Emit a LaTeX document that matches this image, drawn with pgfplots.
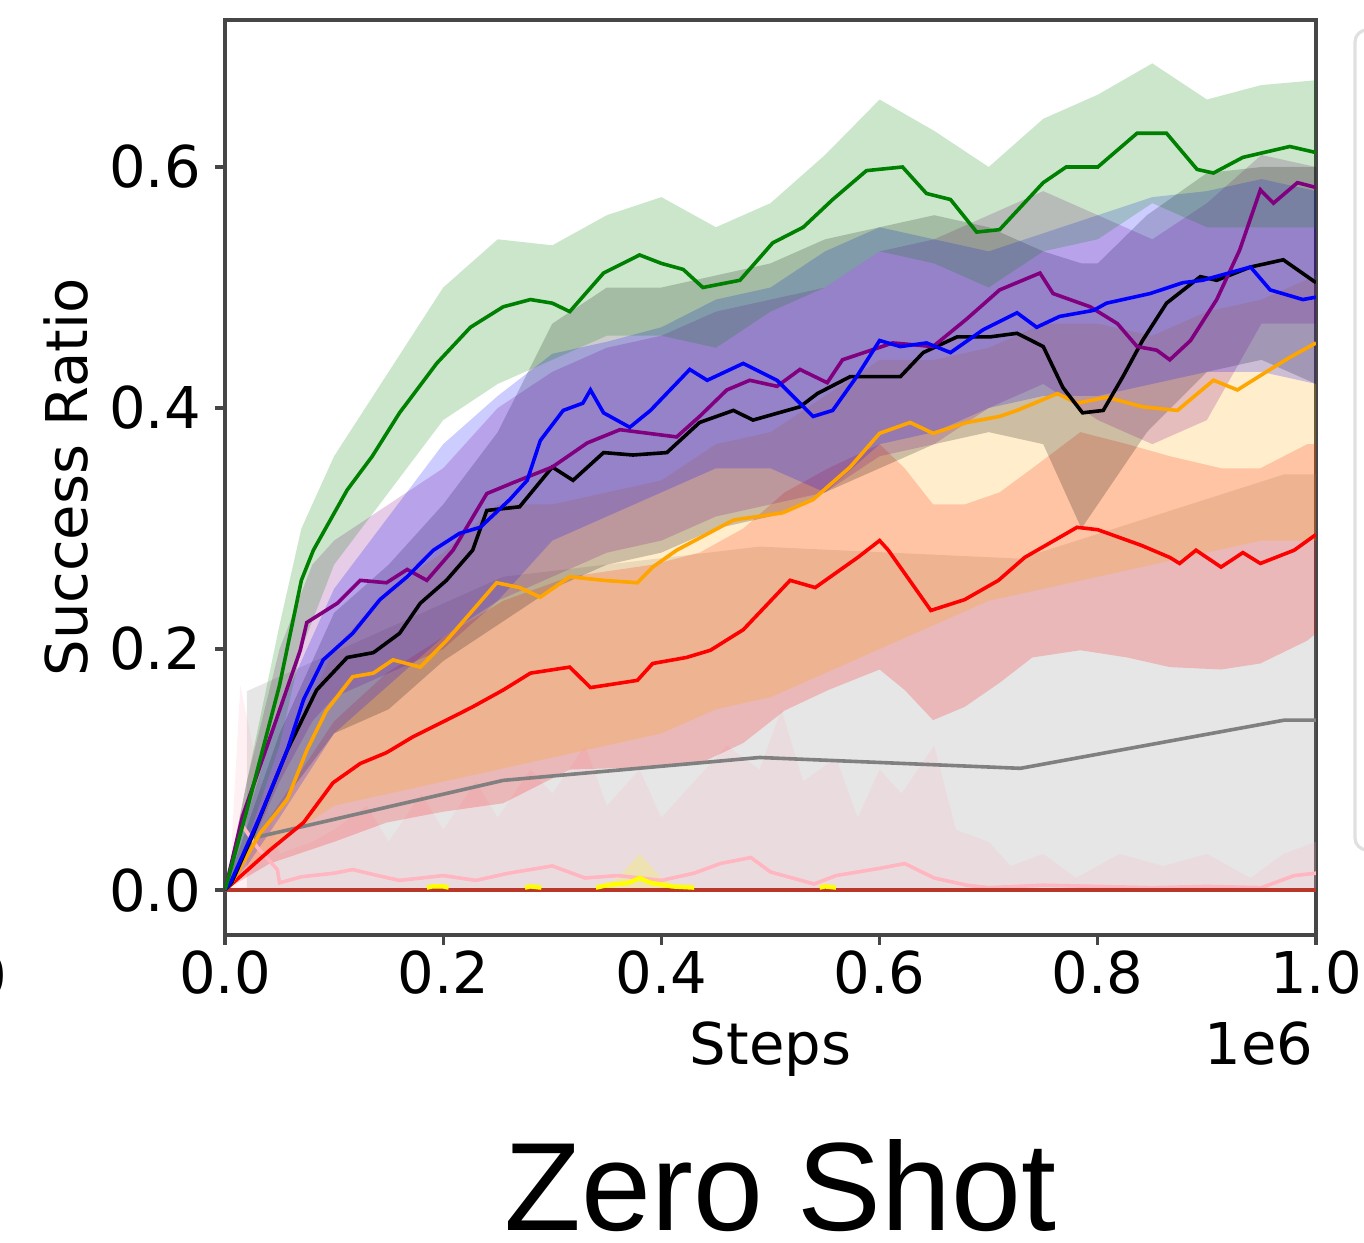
\documentclass[border=0pt]{standalone}
\usepackage{fontspec}
\setmainfont{DejaVu Sans}
\newfontfamily\titlefont{Liberation Sans}
\usepackage{pgfplots}
\pgfplotsset{compat=1.18}
\usepackage{pgfplotstable}
\usepgfplotslibrary{fillbetween}
\usetikzlibrary{calc}

\definecolor{mgreen}{RGB}{0,128,0}
\definecolor{mblue}{RGB}{0,0,255}
\definecolor{mpurple}{RGB}{128,0,128}
\definecolor{morange}{RGB}{255,165,0}
\definecolor{mred}{RGB}{255,0,0}
\definecolor{mgray}{RGB}{128,128,128}
\definecolor{mpink}{RGB}{255,182,193}
\definecolor{myellow}{RGB}{255,255,0}
\definecolor{zeroline}{RGB}{185,55,40}
\definecolor{spine}{RGB}{70,70,70}

% ---- mean curves ----
\pgfplotstableread{
x y
0 0
0.02 0.066
0.05 0.17
0.07 0.257
0.081 0.282
0.112 0.332
0.135 0.36
0.16 0.396
0.194 0.437
0.225 0.467
0.255 0.484
0.28 0.49
0.30 0.487
0.316 0.48
0.347 0.512
0.38 0.527
0.40 0.52
0.42 0.515
0.438 0.50
0.472 0.506
0.502 0.537
0.53 0.55
0.557 0.573
0.588 0.597
0.621 0.60
0.643 0.578
0.665 0.573
0.689 0.546
0.71 0.548
0.75 0.587
0.771 0.60
0.80 0.60
0.836 0.628
0.863 0.628
0.891 0.598
0.906 0.595
0.933 0.608
0.976 0.617
1.0 0.612
}\greenm

\pgfplotstableread{
x y
0 0
0.005 0.006
0.032 0.061
0.057 0.116
0.072 0.158
0.09 0.191
0.117 0.213
0.142 0.241
0.167 0.26
0.191 0.282
0.215 0.296
0.234 0.301
0.261 0.324
0.277 0.34
0.289 0.373
0.31 0.398
0.328 0.404
0.335 0.415
0.347 0.396
0.371 0.384
0.39 0.398
0.426 0.432
0.442 0.423
0.475 0.437
0.506 0.423
0.527 0.404
0.539 0.393
0.557 0.398
0.579 0.426
0.60 0.456
0.619 0.451
0.643 0.454
0.665 0.446
0.695 0.465
0.726 0.479
0.744 0.467
0.765 0.476
0.796 0.481
0.808 0.487
0.848 0.495
0.878 0.504
0.896 0.506
0.94 0.517
0.958 0.498
0.988 0.49
1.0 0.492
}\bluem

\pgfplotstableread{
x y
0 0
0.016 0.061
0.048 0.144
0.069 0.199
0.075 0.222
0.103 0.238
0.124 0.257
0.148 0.255
0.167 0.266
0.185 0.257
0.209 0.282
0.24 0.329
0.264 0.338
0.30 0.351
0.332 0.371
0.362 0.382
0.414 0.376
0.435 0.393
0.46 0.415
0.481 0.423
0.506 0.418
0.527 0.432
0.552 0.421
0.566 0.44
0.612 0.454
0.649 0.451
0.68 0.474
0.71 0.498
0.747 0.512
0.759 0.495
0.793 0.484
0.818 0.47
0.836 0.451
0.854 0.448
0.866 0.44
0.885 0.456
0.909 0.49
0.93 0.531
0.949 0.581
0.961 0.57
0.983 0.587
1.0 0.583
}\purplem

\pgfplotstableread{
x y
0 0
0.006 0.006
0.026 0.047
0.057 0.116
0.084 0.166
0.112 0.193
0.136 0.197
0.16 0.213
0.179 0.238
0.203 0.257
0.227 0.282
0.24 0.315
0.27 0.318
0.30 0.351
0.319 0.34
0.347 0.363
0.374 0.361
0.405 0.363
0.435 0.388
0.466 0.398
0.484 0.39
0.527 0.401
0.543 0.412
0.573 0.426
0.619 0.426
0.64 0.446
0.671 0.459
0.701 0.459
0.726 0.462
0.75 0.451
0.768 0.417
0.786 0.396
0.805 0.398
0.823 0.426
0.841 0.456
0.863 0.487
0.894 0.509
0.909 0.506
0.94 0.517
0.97 0.523
1.0 0.504
}\blackm

\pgfplotstableread{
x y
0 0
0.006 0.006
0.032 0.047
0.057 0.075
0.075 0.116
0.093 0.149
0.117 0.177
0.136 0.18
0.154 0.191
0.179 0.185
0.203 0.207
0.227 0.232
0.249 0.255
0.27 0.251
0.289 0.243
0.316 0.26
0.347 0.257
0.378 0.255
0.392 0.268
0.414 0.282
0.466 0.307
0.511 0.313
0.539 0.324
0.573 0.351
0.60 0.379
0.628 0.388
0.649 0.379
0.68 0.388
0.71 0.393
0.726 0.398
0.763 0.412
0.781 0.404
0.808 0.409
0.841 0.401
0.873 0.398
0.906 0.423
0.928 0.415
0.958 0.432
0.976 0.442
1.0 0.454
}\orangem

\pgfplotstableread{
x y
0 0
0.041 0.033
0.072 0.056
0.099 0.089
0.124 0.105
0.148 0.114
0.172 0.127
0.203 0.141
0.227 0.152
0.255 0.166
0.28 0.18
0.316 0.185
0.335 0.168
0.378 0.174
0.392 0.188
0.423 0.193
0.445 0.199
0.475 0.216
0.518 0.257
0.541 0.251
0.58 0.276
0.60 0.29
0.608 0.282
0.647 0.232
0.678 0.241
0.709 0.257
0.733 0.276
0.781 0.301
0.80 0.299
0.84 0.286
0.866 0.276
0.875 0.271
0.89 0.282
0.913 0.268
0.933 0.28
0.949 0.271
0.98 0.282
1.0 0.295
}\redm

\pgfplotstableread{
x y
0.02 0.042
0.255 0.091
0.49 0.11
0.729 0.101
0.971 0.141
1.0 0.141
}\graym

\pgfplotstableread{
x y
0.014 0.056
0.03 0.035
0.048 0.017
0.05 0.006
0.07 0.011
0.10 0.014
0.117 0.017
0.14 0.012
0.16 0.008
0.20 0.012
0.23 0.008
0.26 0.014
0.30 0.02
0.33 0.01
0.36 0.012
0.40 0.008
0.43 0.014
0.454 0.022
0.482 0.027
0.50 0.015
0.52 0.01
0.54 0.005
0.56 0.012
0.60 0.018
0.623 0.022
0.65 0.01
0.68 0.004
0.70 0.002
0.75 0.004
0.80 0.003
0.85 0.002
0.90 0.003
0.95 0.002
0.98 0.012
1.0 0.014
}\pinkm

% yellow series: zero except for a few short bumps (nan = not drawn on top of the zero line)
\pgfplotstableread{
x y
0.185 0.002
0.19 0.003
0.20 0.003
0.205 0.002
0.21 nan
0.275 0.002
0.28 0.003
0.29 0.002
0.30 nan
0.34 0.002
0.35 0.004
0.37 0.006
0.38 0.01
0.39 0.006
0.41 0.003
0.43 0.002
0.435 nan
0.545 0.002
0.55 0.003
0.56 0.002
}\yellowm

% ---- shaded bands (x lo hi) ----
\pgfplotstableread{
x lo hi
0 0 0
0.02 0.04 0.09
0.05 0.12 0.22
0.07 0.20 0.30
0.10 0.27 0.36
0.15 0.33 0.43
0.20 0.39 0.50
0.25 0.42 0.54
0.30 0.44 0.535
0.35 0.46 0.56
0.40 0.46 0.575
0.45 0.45 0.55
0.50 0.48 0.57
0.55 0.50 0.61
0.60 0.53 0.656
0.65 0.52 0.63
0.70 0.50 0.60
0.75 0.53 0.64
0.80 0.54 0.66
0.85 0.57 0.686
0.90 0.55 0.656
0.95 0.55 0.668
1.00 0.55 0.672
}\greenb

\pgfplotstableread{
x lo hi
0 0 0
0.02 0.02 0.06
0.05 0.06 0.15
0.10 0.13 0.25
0.15 0.17 0.31
0.20 0.21 0.37
0.25 0.24 0.41
0.30 0.29 0.445
0.35 0.31 0.455
0.40 0.33 0.467
0.45 0.35 0.49
0.50 0.35 0.50
0.55 0.33 0.53
0.60 0.37 0.55
0.65 0.38 0.54
0.70 0.40 0.53
0.75 0.41 0.545
0.80 0.41 0.56
0.85 0.42 0.575
0.90 0.43 0.58
0.95 0.43 0.59
1.00 0.42 0.58
}\blueb

\pgfplotstableread{
x lo hi
0 0 0
0.02 0.03 0.09
0.05 0.09 0.20
0.08 0.14 0.27
0.10 0.16 0.29
0.15 0.18 0.32
0.20 0.20 0.35
0.25 0.24 0.40
0.30 0.26 0.43
0.35 0.28 0.45
0.40 0.29 0.46
0.45 0.31 0.48
0.50 0.32 0.49
0.55 0.33 0.50
0.60 0.36 0.53
0.65 0.37 0.54
0.70 0.40 0.56
0.75 0.42 0.58
0.80 0.39 0.56
0.85 0.37 0.54
0.90 0.39 0.57
0.95 0.47 0.61
1.00 0.47 0.60
}\purpleb

\pgfplotstableread{
x lo hi
0 0 0
0.05 0.07 0.13
0.10 0.13 0.23
0.15 0.15 0.27
0.20 0.19 0.32
0.25 0.22 0.38
0.30 0.25 0.47
0.35 0.27 0.50
0.40 0.28 0.50
0.45 0.30 0.51
0.50 0.31 0.52
0.55 0.33 0.54
0.60 0.35 0.55
0.65 0.37 0.56
0.70 0.38 0.55
0.75 0.37 0.53
0.785 0.30 0.52
0.80 0.32 0.52
0.845 0.38 0.56
0.90 0.43 0.595
0.95 0.44 0.60
1.00 0.42 0.60
}\blackb

\pgfplotstableread{
x lo hi
0 0 0
0.05 0.04 0.10
0.10 0.07 0.20
0.15 0.08 0.25
0.20 0.09 0.28
0.25 0.10 0.32
0.30 0.11 0.32
0.35 0.12 0.33
0.40 0.13 0.34
0.45 0.15 0.37
0.50 0.16 0.38
0.55 0.18 0.41
0.60 0.20 0.44
0.65 0.22 0.44
0.70 0.24 0.45
0.75 0.25 0.47
0.80 0.26 0.47
0.85 0.27 0.46
0.90 0.28 0.48
0.95 0.29 0.49
1.00 0.29 0.51
}\orangeb

\pgfplotstableread{
x lo hi
0 0 0
0.041 0.022 0.06
0.10 0.04 0.14
0.148 0.056 0.18
0.20 0.065 0.21
0.255 0.072 0.24
0.316 0.10 0.26
0.392 0.102 0.27
0.435 0.105 0.28
0.475 0.122 0.30
0.513 0.149 0.33
0.553 0.166 0.35
0.60 0.183 0.37
0.623 0.166 0.35
0.649 0.141 0.32
0.678 0.152 0.32
0.71 0.172 0.33
0.74 0.193 0.35
0.784 0.199 0.38
0.827 0.193 0.37
0.866 0.185 0.36
0.913 0.183 0.35
0.949 0.188 0.35
0.992 0.207 0.37
1.00 0.213 0.37
}\redb

\pgfplotstableread{
x lo hi
0.02 0 0.165
0.255 0 0.26
0.49 0 0.285
0.729 0 0.275
0.971 0 0.345
1.0 0 0.345
}\grayb

\pgfplotstableread{
x lo hi
0.005 0 0.02
0.014 0 0.17
0.03 0 0.10
0.05 0 0.03
0.08 0 0.04
0.10 0 0.05
0.13 0 0.07
0.15 0 0.04
0.18 0 0.08
0.20 0 0.05
0.23 0 0.09
0.25 0 0.06
0.28 0 0.10
0.30 0 0.08
0.33 0 0.12
0.35 0 0.07
0.38 0 0.10
0.40 0 0.06
0.43 0 0.09
0.46 0 0.12
0.49 0 0.10
0.51 0 0.15
0.53 0 0.09
0.56 0 0.11
0.58 0 0.06
0.60 0 0.10
0.62 0 0.08
0.65 0 0.12
0.67 0 0.05
0.70 0 0.04
0.72 0 0.02
0.75 0 0.03
0.78 0 0.01
0.82 0 0.03
0.86 0 0.02
0.90 0 0.03
0.94 0 0.01
0.97 0 0.03
1.00 0 0.04
}\pinkb

\pgfplotstableread{
x lo hi
0.34 0 0
0.36 0 0.01
0.38 0 0.03
0.40 0 0.01
0.42 0 0
}\yellowb

\newcommand{\band}[3]{%
  \addplot[draw=none, name path=#3u, forget plot] table[x=x,y=hi]{#1};
  \addplot[draw=none, name path=#3l, forget plot] table[x=x,y=lo]{#1};
  \addplot[fill=#2, fill opacity=0.2, draw=none, forget plot] fill between[of=#3u and #3l];
}

\begin{document}
\begin{tikzpicture}
\begin{axis}[
  scale only axis,
  width=272.75pt, height=228.75pt,
  xmin=0, xmax=1,
  ymin=-0.0373, ymax=0.722,
  xtick={0,0.2,0.4,0.6,0.8,1.0},
  ytick={0,0.2,0.4,0.6},
  xtick pos=left, ytick pos=left,
  tick align=outside,
  major tick length=2.5pt,
  tick style={spine, line width=0.8pt},
  axis line style={spine, line width=0.8pt},
  unbounded coords=jump,
  /pgf/number format/assume math mode=true,
  /pgf/number format/.cd, fixed, fixed zerofill, precision=1, /pgfplots/.cd,
  tick label style={font=\fontsize{14.4}{17}\selectfont},
  xticklabel style={yshift=2pt},
  label style={font=\fontsize{14.4}{17}\selectfont},
  xlabel={Steps},
  xlabel style={at={(axis description cs:0.5,0)}, anchor=base, yshift=-32.5pt},
  ylabel={Success Ratio},
  ylabel style={at={(axis description cs:0,0.5)}, anchor=center, yshift=39.75pt},
  clip=true,
]
\band{\grayb}{mgray}{gy}
\band{\pinkb}{mpink}{pk}
\band{\yellowb}{myellow}{yl}
\band{\redb}{mred}{rd}
\band{\orangeb}{morange}{or}
\band{\blackb}{black}{bk}
\band{\purpleb}{mpurple}{pu}
\band{\blueb}{mblue}{bl}
\band{\greenb}{mgreen}{gr}

\addplot[mgray, line width=0.9pt] table[x=x,y=y]{\graym};
\addplot[mpink, line width=0.9pt] table[x=x,y=y]{\pinkm};
\addplot[zeroline, line width=1.1pt] coordinates {(0,0) (1,0)};
\addplot[myellow, line width=1.1pt] table[x=x,y=y]{\yellowm};
\addplot[mred, line width=0.9pt] table[x=x,y=y]{\redm};
\addplot[morange, line width=0.9pt] table[x=x,y=y]{\orangem};
\addplot[black, line width=0.9pt] table[x=x,y=y]{\blackm};
\addplot[mpurple, line width=0.9pt] table[x=x,y=y]{\purplem};
\addplot[mblue, line width=0.9pt] table[x=x,y=y]{\bluem};
\addplot[mgreen, line width=0.9pt] table[x=x,y=y]{\greenm};

\coordinate (SW) at (rel axis cs:0,0);
\coordinate (NE) at (rel axis cs:1,1);
\end{axis}
% multiplier under the right end of the x axis
\node[anchor=base east, font=\fontsize{14.4}{17}\selectfont, inner sep=0pt]
  at ($(NE|-SW)+(-0.5pt,-32.5pt)$) {1e6};
% panel title
\node[anchor=base, font=\titlefont\fontsize{31.4}{36}\selectfont, inner sep=0pt]
  at ($(SW)!0.5!(NE|-SW)+(2.5pt,-74pt)$) {Zero Shot};
% edge of the neighbouring panel's tick label and legend frame, both cut by the page
\node[anchor=base east, font=\fontsize{14.4}{17}\selectfont, inner sep=0pt]
  at ($(SW)+(-54.25pt,-15.5pt)$) {1.0};
\draw[black!12, line width=0.8pt, rounded corners=3pt]
  ($(NE)+(14pt,-2.5pt)$) -- ($(NE)+(9.75pt,-2.5pt)$) --
  ($(NE|-SW)+(9.75pt,21.25pt)$) -- ($(NE|-SW)+(14pt,21.25pt)$);
\pgfresetboundingbox
\path ($(SW)+(-56.25pt,-77pt)$) rectangle ($(NE)+(12pt,5pt)$);
\end{tikzpicture}
\end{document}
